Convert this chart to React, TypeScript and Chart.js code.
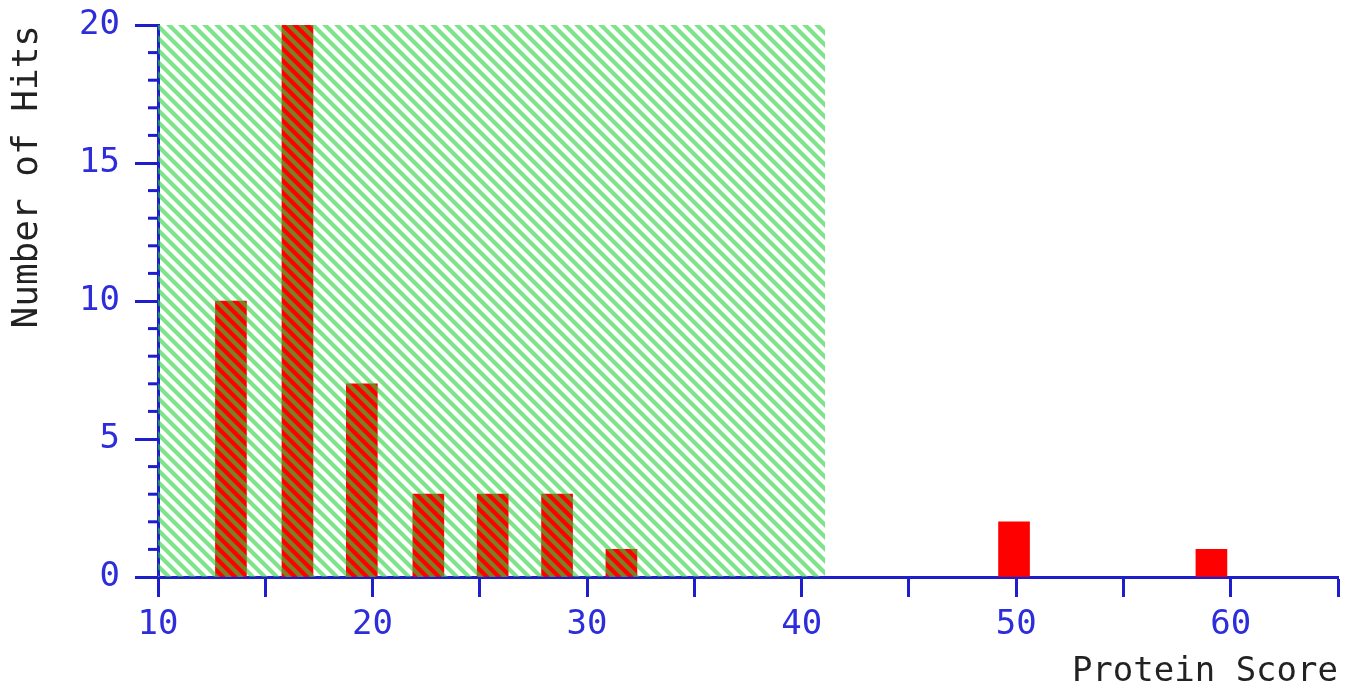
import React, { useEffect, useRef } from 'react';
import { Chart, registerables } from 'chart.js';

Chart.register(...registerables);

// ---- data ----
const scoreBins = [13.4, 16.5, 19.5, 22.6, 25.6, 28.6, 31.6, 49.9, 59.1];
const hitCounts = [10, 20, 7, 3, 3, 3, 1, 2, 1];
const thresholdScore = 41.1;
const xMin = 10;
const xMax = 65;
const xStep = 5;
const xLabelEvery = 10;
const yMin = 0;
const yMax = 20;
const yLabelEvery = 5;
const xTitle = 'Protein Score';
const yTitle = 'Number of Hits';

// ---- styles ----
const axisBlue = 'rgb(30,30,205)';
const labelBlue = 'rgb(45,45,220)';
const titleColor = '#222222';
const barRed = '#ff0000';
const monoFont = '"DejaVu Sans Mono", "Liberation Mono", monospace';

function makeHatch(): CanvasPattern | string {
  const size = 12;
  const c = document.createElement('canvas');
  c.width = size;
  c.height = size;
  const g = c.getContext('2d');
  if (!g) return 'rgba(40,210,60,0.45)';
  g.strokeStyle = 'rgba(40,210,60,0.6)';
  g.lineWidth = 4.2;
  for (const k of [-size, 0, size]) {
    g.beginPath();
    g.moveTo(k - 2, -2);
    g.lineTo(k + size + 2, size + 2);
    g.stroke();
  }
  return g.createPattern(c, 'repeat') || 'rgba(40,210,60,0.45)';
}

const minorTicks = {
  id: 'minorTicks',
  afterDraw(chart: any) {
    const y = chart.scales.y;
    const ctx = chart.ctx;
    ctx.save();
    ctx.strokeStyle = axisBlue;
    ctx.lineWidth = 3;
    for (let v = yMin; v <= yMax; v++) {
      if (v % yLabelEvery === 0) continue;
      const py = y.getPixelForValue(v);
      ctx.beginPath();
      ctx.moveTo(y.right - 10, py);
      ctx.lineTo(y.right, py);
      ctx.stroke();
    }
    ctx.restore();
  },
};

export default function App() {
  const ref = useRef<HTMLCanvasElement | null>(null);

  useEffect(() => {
    if (!ref.current) return;
    const hatch = makeHatch();
    const chart = new Chart(ref.current, {
      type: 'bar',
      data: {
        datasets: [
          {
            type: 'line',
            label: 'threshold',
            data: [
              { x: xMin, y: yMax },
              { x: thresholdScore, y: yMax },
            ],
            backgroundColor: hatch as any,
            borderWidth: 0,
            borderColor: 'rgba(0,0,0,0)',
            pointRadius: 0,
            fill: 'origin',
            order: 0,
          } as any,
          {
            type: 'bar',
            label: 'hits',
            data: scoreBins.map((x, i) => ({ x, y: hitCounts[i] })),
            backgroundColor: barRed,
            borderWidth: 0,
            barThickness: 31,
            order: 1,
          } as any,
        ],
      },
      options: {
        animation: false,
        responsive: true,
        maintainAspectRatio: false,
        layout: { padding: { top: 25, right: 10, left: 0, bottom: 0 } },
        plugins: {
          legend: { display: false },
          tooltip: { enabled: false },
        },
        scales: {
          x: {
            type: 'linear',
            min: xMin,
            max: xMax,
            offset: false,
            z: 1,
            afterFit(scale: any) {
              scale.height = 112;
              scale.paddingLeft = 0;
              scale.paddingRight = 0;
            },
            ticks: {
              stepSize: xStep,
              autoSkip: false,
              maxRotation: 0,
              padding: 8,
              color: labelBlue,
              font: { family: monoFont, size: 34 },
              callback: (v: any) => (Number(v) % xLabelEvery === 0 ? String(v) : ''),
            },
            grid: {
              display: true,
              offset: false,
              drawOnChartArea: false,
              drawTicks: true,
              tickLength: 20,
              tickWidth: 3,
              tickColor: axisBlue,
            },
            border: { display: true, color: axisBlue, width: 3 },
            title: {
              display: true,
              text: xTitle,
              align: 'end',
              color: titleColor,
              font: { family: monoFont, size: 34, lineHeight: 1 },
              padding: { top: 0, bottom: 0 },
            },
          },
          y: {
            type: 'linear',
            min: yMin,
            max: yMax,
            z: 1,
            afterFit(scale: any) {
              scale.width = 158;
              scale.paddingTop = 0;
              scale.paddingBottom = 0;
            },
            ticks: {
              stepSize: 1,
              autoSkip: false,
              padding: 15,
              color: labelBlue,
              font: { family: monoFont, size: 34 },
              callback: (v: any) => (Number(v) % yLabelEvery === 0 ? String(v) : ''),
            },
            grid: {
              display: true,
              drawOnChartArea: false,
              drawTicks: true,
              tickLength: 23,
              tickWidth: 3,
              tickColor: (c: any) =>
                c.tick && c.tick.value % yLabelEvery === 0 ? axisBlue : 'rgba(0,0,0,0)',
            },
            border: { display: true, color: axisBlue, width: 3 },
            title: {
              display: true,
              text: yTitle,
              align: 'end',
              color: titleColor,
              font: { family: monoFont, size: 36, lineHeight: 1 },
              padding: { top: 10, bottom: 0 },
            },
          },
        },
      } as any,
      plugins: [minorTicks],
    });
    return () => chart.destroy();
  }, []);

  return (
    <div
      style={{
        position: 'absolute',
        left: 0,
        top: 0,
        width: 1348,
        height: 689,
        background: '#ffffff',
      }}
    >
      <canvas ref={ref} />
    </div>
  );
}
